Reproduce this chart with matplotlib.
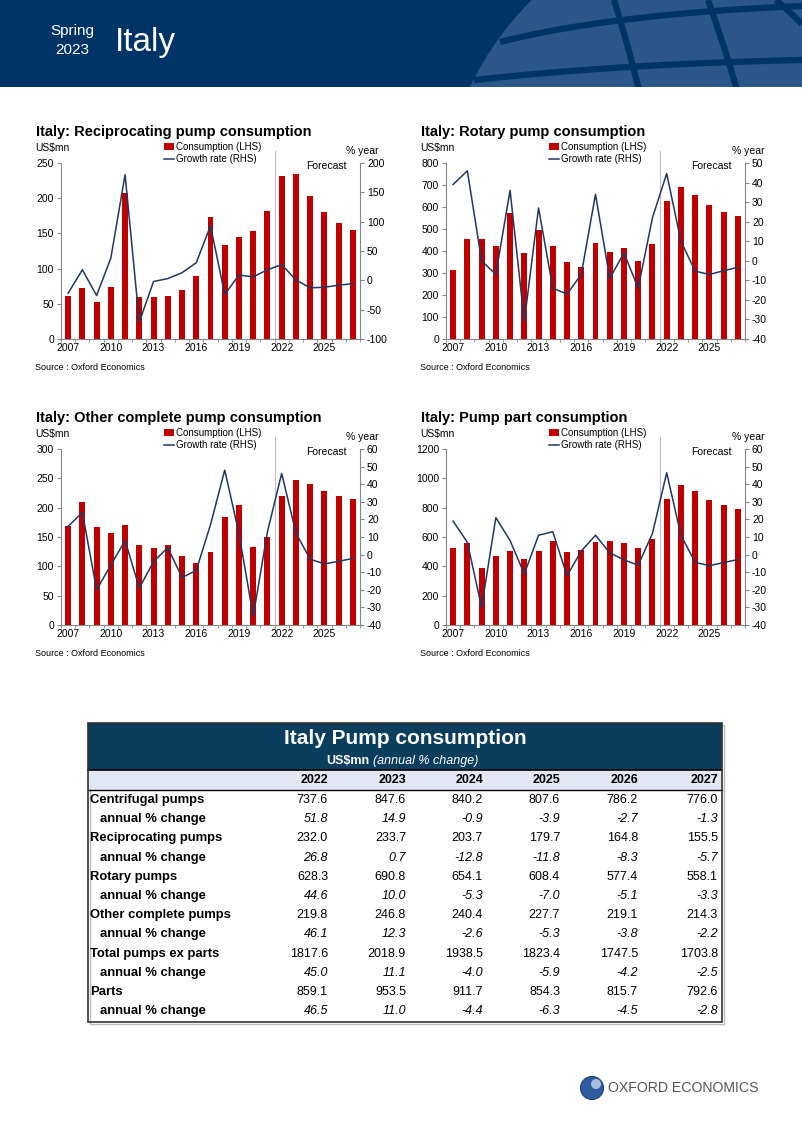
import matplotlib
matplotlib.use('Agg')
import matplotlib.pyplot as plt
import numpy as np
from matplotlib.patches import Rectangle, Circle

# ---------------- DATA ----------------
years = list(range(2007, 2028))

recip_cons = [61, 72, 53, 74, 208, 60, 59, 61, 69, 90, 174, 133, 145, 154, 182,
              232.0, 233.7, 203.7, 179.7, 164.8, 155.5]
recip_growth = [-22, 18, -26, 38, 180, -71, -2, 3, 13, 30, 93, -24, 9, 6, 18,
                26.8, 0.7, -12.8, -11.8, -8.3, -5.7]

rotary_cons = [312, 455, 455, 422, 575, 390, 495, 425, 350, 327, 437, 397, 412, 356, 434,
               628.3, 690.8, 654.1, 608.4, 577.4, 558.1]
rotary_growth = [39, 46, 0, -7, 36, -31, 27, -14, -17, -7, 34, -9, 4, -14, 22,
                 44.6, 10.0, -5.3, -7.0, -5.1, -3.3]

other_cons = [169, 210, 167, 157, 170, 136, 131, 136, 117, 106, 124, 184, 205, 133, 150,
              219.8, 246.8, 240.4, 227.7, 219.1, 214.3]
other_growth = [16, 24, -20, -6, 8, -19, -4, 4, -13, -9, 17, 48, 12, -35, 13,
                46.1, 12.3, -2.6, -5.3, -3.8, -2.2]

parts_cons = [525, 560, 390, 470, 507, 453, 502, 570, 500, 512, 566, 573, 557, 525, 587,
              859.1, 953.5, 911.7, 854.3, 815.7, 792.6]
parts_growth = [19, 7, -30, 21, 8, -11, 11, 13, -12, 2, 11, 1, -3, -6, 12,
                46.5, 11.0, -4.4, -6.3, -4.5, -2.8]

table_years = [2022, 2023, 2024, 2025, 2026, 2027]
table_rows = ["Centrifugal pumps", "Reciprocating pumps", "Rotary pumps",
              "Other complete pumps", "Total pumps ex parts", "Parts"]
table_levels = [
    [737.6, 847.6, 840.2, 807.6, 786.2, 776.0],
    [232.0, 233.7, 203.7, 179.7, 164.8, 155.5],
    [628.3, 690.8, 654.1, 608.4, 577.4, 558.1],
    [219.8, 246.8, 240.4, 227.7, 219.1, 214.3],
    [1817.6, 2018.9, 1938.5, 1823.4, 1747.5, 1703.8],
    [859.1, 953.5, 911.7, 854.3, 815.7, 792.6],
]
table_changes = [
    [51.8, 14.9, -0.9, -3.9, -2.7, -1.3],
    [26.8, 0.7, -12.8, -11.8, -8.3, -5.7],
    [44.6, 10.0, -5.3, -7.0, -5.1, -3.3],
    [46.1, 12.3, -2.6, -5.3, -3.8, -2.2],
    [45.0, 11.1, -4.0, -5.9, -4.2, -2.5],
    [46.5, 11.0, -4.4, -6.3, -4.5, -2.8],
]

# ---------------- STYLE ----------------
plt.rcParams['font.family'] = ['Liberation Sans', 'DejaVu Sans']
plt.rcParams['axes.unicode_minus'] = False
W, H = 802, 1134
RED = '#C00000'
NAVY = '#1F3864'
GREY = '#868686'

fig = plt.figure(figsize=(W / 100, H / 100), dpi=100)
bg = fig.add_axes([0, 0, 1, 1])
bg.set_xlim(0, W)
bg.set_ylim(H, 0)
bg.axis('off')

# ---------------- PAGE HEADER ----------------
hdr = Rectangle((0, 0), W, 87, facecolor='#003466', edgecolor='none', zorder=1)
bg.add_patch(hdr)
globe = Circle((750, 220), 310, facecolor='#2A5689', edgecolor='none', zorder=2)
bg.add_patch(globe)
globe.set_clip_path(hdr)
t = np.linspace(0, 1, 50)
deco = [
    ((614, 0), (628, 45), (639, 90)),
    ((708, 0), (724, 45), (737, 90)),
    ((776, 0), (790, 12), (802, 24)),
    ((500, 42), (610, 14), (802, 6)),
    ((474, 80), (620, 64), (802, 60)),
]
for p0, p1, p2 in deco:
    xs = (1 - t) ** 2 * p0[0] + 2 * (1 - t) * t * p1[0] + t ** 2 * p2[0]
    ys = (1 - t) ** 2 * p0[1] + 2 * (1 - t) * t * p1[1] + t ** 2 * p2[1]
    ln, = bg.plot(xs, ys, color='#003466', lw=4.5, zorder=3, solid_capstyle='butt')
    ln.set_clip_path(hdr)
bg.text(72, 31, "Spring", color='white', fontsize=11, ha='center', va='center', zorder=5)
bg.text(72, 50, "2023", color='white', fontsize=11, ha='center', va='center', zorder=5)
bg.text(115, 42, "Italy", color='white', fontsize=24, ha='left', va='center', zorder=5)


# ---------------- CHARTS ----------------
def make_chart(ax_left, ax_top, title, cons, growth, lmax, lstep, rmin, rmax, rstep):
    aw, ah = 299, 176
    ax = fig.add_axes([ax_left / W, 1 - (ax_top + ah) / H, aw / W, ah / H])
    idx = np.arange(len(years))
    bars = ax.bar(idx, cons, width=0.42, color=RED, zorder=2)
    ax.set_xlim(-0.5, len(years) - 0.5)
    ax.set_ylim(0, lmax)
    ax.set_yticks(np.arange(0, lmax + 0.1, lstep))
    ax.set_xticks(idx[::3])
    ax.set_xticklabels([str(y) for y in years[::3]])
    ax.set_xticks(np.arange(-0.5, len(years), 1), minor=True)
    ax.tick_params(axis='x', which='major', length=0, labelsize=7.5, pad=3)
    ax.tick_params(axis='x', which='minor', length=2.5, direction='out', color=GREY)
    ax.tick_params(axis='y', length=3, direction='out', color=GREY, labelsize=7.5, pad=2)
    for s in ['top', 'right']:
        ax.spines[s].set_visible(False)
    for s in ['left', 'bottom']:
        ax.spines[s].set_color(GREY)
        ax.spines[s].set_linewidth(0.8)
    ax.patch.set_visible(False)

    ax2 = ax.twinx()
    line, = ax2.plot(idx, growth, color=NAVY, lw=1.1, zorder=3)
    ax2.set_ylim(rmin, rmax)
    ax2.set_yticks(np.arange(rmin, rmax + 0.1, rstep))
    ax2.tick_params(axis='y', length=3, direction='out', color=GREY, labelsize=7.5, pad=2)
    for s in ['top', 'left', 'bottom']:
        ax2.spines[s].set_visible(False)
    ax2.spines['right'].set_color(GREY)
    ax2.spines['right'].set_linewidth(0.8)

    # forecast divider
    ax.axvline(14.5, ymin=0, ymax=1.07, color='#BFBFBF', lw=0.8, clip_on=False, zorder=1)

    off_x = ax_left - 61
    off_y = ax_top - 163
    bg.text(off_x + 36, off_y + 132, title, fontsize=10.5, fontweight='bold', ha='left', va='center')
    bg.text(off_x + 35, off_y + 148, "US$mn", fontsize=7.5, ha='left', va='center')
    bg.text(off_x + 379, off_y + 151, "% year", fontsize=7.5, ha='right', va='center')
    bg.text(off_x + 347, off_y + 166, "Forecast", fontsize=7.5, ha='right', va='center')
    bg.text(off_x + 35, off_y + 367, "Source : Oxford Economics", fontsize=6.5, ha='left', va='center')

    ax2.legend([bars, line], ["Consumption (LHS)", "Growth rate (RHS)"],
               loc='upper left', bbox_to_anchor=((off_x + 164) / W, 1 - (off_y + 142) / H),
               bbox_transform=fig.transFigure, frameon=False, fontsize=7,
               handlelength=1.0, handleheight=0.7, handletextpad=0.2,
               labelspacing=0.25, borderpad=0, borderaxespad=0)
    return ax, ax2


make_chart(61, 163, "Italy: Reciprocating pump consumption", recip_cons, recip_growth,
           250, 50, -100, 200, 50)
make_chart(446, 163, "Italy: Rotary pump consumption", rotary_cons, rotary_growth,
           800, 100, -40, 50, 10)
make_chart(61, 449, "Italy: Other complete pump consumption", other_cons, other_growth,
           300, 50, -40, 60, 10)
make_chart(446, 449, "Italy: Pump part consumption", parts_cons, parts_growth,
           1200, 200, -40, 60, 10)

# ---------------- TABLE ----------------
tx0, tx1, ty0, ty1 = 88, 722, 723, 1022
bg.add_patch(Rectangle((tx0, ty0), tx1 - tx0, 47, facecolor='#0B3D5C', edgecolor='none', zorder=2))
bg.add_patch(Rectangle((tx0, 770), tx1 - tx0, 19.5, facecolor='#E4E7F4', edgecolor='none', zorder=2))
bg.plot([tx0, tx1], [770, 770], color='black', lw=1.2, zorder=3)
bg.plot([tx0, tx1], [789.5, 789.5], color='black', lw=1.0, zorder=3)
bg.add_patch(Rectangle((tx0, ty0), tx1 - tx0, ty1 - ty0, facecolor='none',
                       edgecolor='#333333', lw=1.2, zorder=4))
bg.add_patch(Rectangle((tx0 + 1.5, ty0 + 1.5), tx1 - tx0, ty1 - ty0, facecolor='none',
                       edgecolor='#BBBBBB', lw=1.0, zorder=1))

bg.text(405, 739, "Italy Pump consumption", color='white', fontsize=15, fontweight='heavy',
        ha='center', va='center', zorder=5)
t1 = bg.text(369, 761, "US$mn", color='white', fontsize=9, fontweight='bold',
             ha='right', va='center', zorder=5)
bg.annotate("(annual % change)", xy=(1, 0), xycoords=t1, xytext=(3, 0),
            textcoords='offset points', color='white', fontsize=9, style='italic',
            ha='left', va='bottom', zorder=5)

col_right = [328, 406, 483, 560, 638, 718]
for yr, cx in zip(table_years, col_right):
    bg.text(cx, 780, str(yr), fontsize=9, fontweight='bold', ha='right', va='center', zorder=5)

row_y0, row_dy = 800, 19.2
for i, name in enumerate(table_rows):
    ya = row_y0 + (2 * i) * row_dy
    yb = row_y0 + (2 * i + 1) * row_dy
    bg.text(90, ya, name, fontsize=9.4, fontweight='bold', ha='left', va='center', zorder=5)
    bg.text(100, yb, "annual % change", fontsize=9.4, fontweight='bold', ha='left', va='center', zorder=5)
    for j, cx in enumerate(col_right):
        bg.text(cx, ya, f"{table_levels[i][j]:.1f}", fontsize=9, ha='right', va='center', zorder=5)
        bg.text(cx, yb, f"{table_changes[i][j]:.1f}", fontsize=9, style='italic',
                ha='right', va='center', zorder=5)

# ---------------- LOGO ----------------
logo = Circle((592, 1088), 11.5, facecolor='#2E5C9E', edgecolor='#1B3F78', lw=0.8, zorder=2)
bg.add_patch(logo)
hl = Circle((596, 1084), 5, facecolor='#C9D7EE', edgecolor='none', alpha=0.8, zorder=3)
bg.add_patch(hl)
hl.set_clip_path(logo)
bg.text(608, 1088, "OXFORD ECONOMICS", color='#555555', fontsize=10.2, ha='left', va='center',
        zorder=5)

fig.savefig('out.png', dpi=100)
